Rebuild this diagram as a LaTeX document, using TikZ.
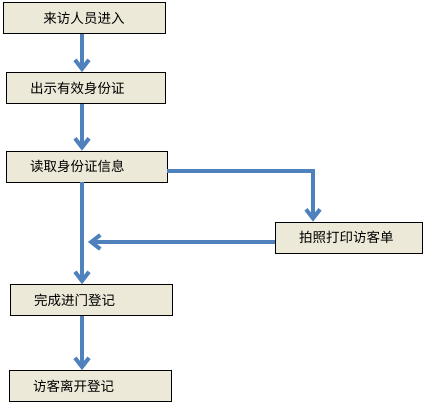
\documentclass[tikz,border=0pt]{standalone}
\usepackage{fontspec}
\setmainfont{Noto Sans CJK SC}
\usetikzlibrary{arrows.meta}
\definecolor{boxFill}{HTML}{ECE9D8}
\definecolor{flowBlue}{HTML}{4F81BD}
\begin{document}
\begin{tikzpicture}[x=1pt, y=-1pt,
    boxStyle/.style={draw, fill=boxFill, line width=0.8pt, minimum height=31pt, inner xsep=24pt, align=left, font=\fontsize{13.5}{16}\selectfont},
    flowStyle/.style={draw=flowBlue, line width=4pt, -{Straight Barb[length=9pt, width=14pt]}}]
    \useasboundingbox (0, 0) rectangle (425, 405);
    \node[boxStyle, minimum width=162pt, text width=114pt, align=center](enter) at (84, 18) {来访人员进入};
    \node[boxStyle, minimum width=159pt, text width=111pt](showid) at (85.5, 88) {出示有效身份证};
    \node[boxStyle, minimum width=161pt, text width=113pt](readid) at (86.5, 166.5) {读取身份证信息};
    \node[boxStyle, minimum width=147pt, text width=99pt](print) at (348.5, 237.5) {拍照打印访客单};
    \node[boxStyle, minimum width=162pt, text width=114pt](done) at (91, 300) {完成进门登记};
    \node[boxStyle, minimum width=162pt, text width=114pt](leave) at (90, 386) {访客离开登记};

    \coordinate (axis) at (82, 0);
    \coordinate (turn) at (313, 171);
    \coordinate (merge) at (88, 242);

    \draw[flowStyle] (enter.south -| axis) -- (showid.north -| axis);
    \draw[flowStyle] (showid.south -| axis) -- (readid.north -| axis);
    \draw[flowStyle] (readid.east |- turn) -- (turn) -- (turn |- print.north);
    \draw[flowStyle] (print.west |- merge) -- (merge);
    \draw[flowStyle] (readid.south -| axis) -- (done.north -| axis);
    \draw[flowStyle] (done.south -| axis) -- (leave.north -| axis);
\end{tikzpicture}
\end{document}
